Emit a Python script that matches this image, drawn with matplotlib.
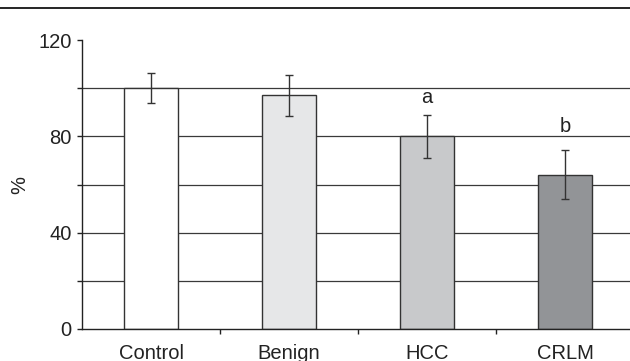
import matplotlib
matplotlib.use("Agg")
import matplotlib.pyplot as plt
from matplotlib.lines import Line2D
import numpy as np

plt.rcParams['font.family'] = ['Liberation Sans', 'DejaVu Sans']

categories = ["Control", "Benign", "HCC", "CRLM"]
values = [100, 97, 80, 64]
errors = [6.3, 8.5, 9.0, 10.2]
colors = ["#ffffff", "#e6e7e8", "#c8c9cb", "#929497"]
sig_labels = ["", "", "a", "b"]
sig_y = [None, None, 96, 84]

fig = plt.figure(figsize=(6.3, 3.61), dpi=100)
ax = fig.add_axes([82/630, 1-329/361, 552/630, 289/361])

x = np.arange(len(categories))
for yv in range(20, 101, 20):
    ax.axhline(yv, color="#3a3a3a", lw=0.9, zorder=1)
ax.bar(x, values, width=0.39, color=colors, edgecolor="#333333", lw=1.0, zorder=2)
ax.errorbar(x, values, yerr=errors, fmt="none", ecolor="#333333", elinewidth=1.0,
            capsize=2.9, capthick=1.0, zorder=3)
for xi, lab, yy in zip(x, sig_labels, sig_y):
    if lab:
        ax.text(xi, yy, lab, ha="center", va="center", fontsize=14.5, color="#222222")

ax.set_xlim(-0.5, 3.5)
ax.set_ylim(0, 120)
ax.set_yticks([0, 40, 80, 120])
ax.set_yticks([20, 60, 100], minor=True)
ax.set_xticks([0.5, 1.5, 2.5])
ax.set_xticklabels([])
ax.set_xticks(x, minor=True)
ax.set_xticklabels(categories, minor=True)
ax.tick_params(axis="x", which="minor", length=0, pad=11, labelsize=14.5, labelcolor="#222222")
ax.tick_params(axis="x", which="major", length=3.5, width=1, color="#222222")
ax.tick_params(axis="y", which="both", length=3.5, width=1, color="#222222",
               labelsize=14.5, labelcolor="#222222", pad=4)
for s in ["top", "right"]:
    ax.spines[s].set_visible(False)
for s in ["left", "bottom"]:
    ax.spines[s].set_color("#222222")
    ax.spines[s].set_linewidth(1.0)
ax.set_ylabel("%", fontsize=14.5, color="#222222")
ax.yaxis.set_label_coords((29 - 82) / 552, 0.5)

fig.add_artist(Line2D([0, 1], [1-8/361, 1-8/361], color="black", lw=1.2, transform=fig.transFigure))

fig.savefig("out.png", dpi=100)
